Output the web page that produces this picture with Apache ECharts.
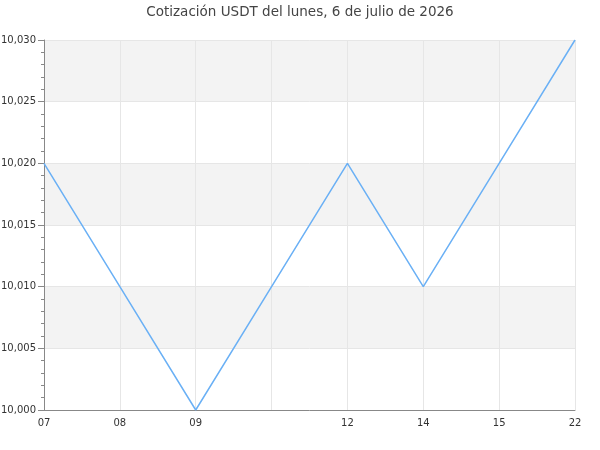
<!DOCTYPE html>
<html>
<head>
<meta charset="utf-8">
<script src="https://cdn.jsdelivr.net/npm/echarts@6/dist/echarts.min.js"></script>
<style>html,body{margin:0;padding:0;background:#fff}#c{width:600px;height:450px}</style>
</head>
<body>
<div id="c"></div>
<script>
const titleText = 'Cotización USDT del lunes, 6 de julio de 2026';
const categories = ['07', '08', '09', '', '12', '14', '15', '22'];
const prices = [10.020, 10.010, 10.000, 10.010, 10.020, 10.010, 10.020, 10.030];
const yMin = 10.000, yMax = 10.030, yStep = 0.005;

const chart = echarts.init(document.getElementById('c'), null, {renderer: 'canvas'});
chart.setOption({
  animation: false,
  backgroundColor: '#fff',
  textStyle: {fontFamily: 'DejaVu Sans'},
  title: {
    text: titleText, left: 'center', top: 0,
    textStyle: {fontFamily: 'DejaVu Sans', fontSize: 13.5, fontWeight: 'normal', color: '#444'}
  },
  grid: {left: 44, right: 25, top: 40, bottom: 40, containLabel: false, outerBoundsMode: 'none'},
  xAxis: {
    type: 'category', data: categories, boundaryGap: false,
    axisLine: {lineStyle: {color: '#888', width: 1}},
    axisTick: {show: false},
    axisLabel: {color: '#333', fontSize: 10, margin: 8, interval: 0},
    splitLine: {show: true, lineStyle: {color: '#e6e6e6', width: 1}}
  },
  yAxis: {
    type: 'value', min: yMin, max: yMax, interval: yStep,
    axisLine: {show: true, lineStyle: {color: '#888', width: 1}},
    axisTick: {show: true, length: 6, lineStyle: {color: '#888'}},
    minorTick: {show: true, splitNumber: 5, length: 3, lineStyle: {color: '#888'}},
    axisLabel: {color: '#333', fontSize: 10, margin: 8,
      formatter: v => v.toFixed(3).replace('.', ',')},
    splitLine: {show: true, lineStyle: {color: '#e6e6e6', width: 1}},
    splitArea: {show: true, areaStyle: {color: ['#ffffff', '#f3f3f3']}}
  },
  series: [{
    type: 'line', data: prices, showSymbol: false, symbol: 'none',
    lineStyle: {color: '#6ab0f5', width: 1.5}
  }]
});
</script>
</body>
</html>
